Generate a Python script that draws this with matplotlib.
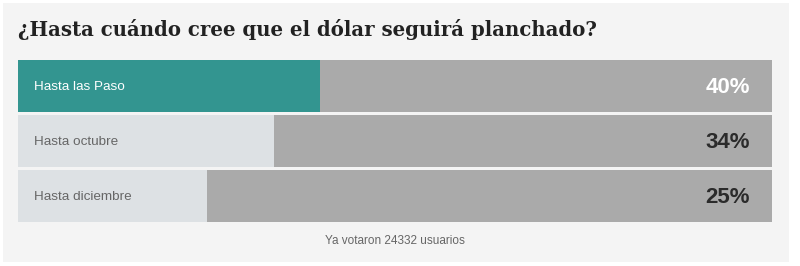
import matplotlib
matplotlib.use("Agg")
import matplotlib.pyplot as plt
from matplotlib.patches import Rectangle

title = "¿Hasta cuándo cree que el dólar seguirá planchado?"
options = ["Hasta las Paso", "Hasta octubre", "Hasta diciembre"]
percents = [40, 34, 25]
footer = "Ya votaron 24332 usuarios"

W, H = 800, 266
fig = plt.figure(figsize=(W / 100, H / 100), dpi=100)
fig.patch.set_facecolor("white")
fig.patches.append(Rectangle((3 / W, 4 / H), 786 / W, 259 / H, transform=fig.transFigure,
                             facecolor="#f4f4f4", edgecolor="none", zorder=-5))

# bar area: x 18..772, y 60..222 px (top-origin)
ax = fig.add_axes([18 / W, 1 - 222 / H, 754 / W, 162 / H])
ax.set_zorder(2)
ax.set_facecolor("none")
h = 52 / 55
ypos = list(range(len(options)))
fill_colors = ["#339590", "#dde1e4", "#dde1e4"]
label_colors = ["white", "#666666", "#666666"]
pct_colors = ["white", "#2b2b2b", "#2b2b2b"]

ax.barh(ypos, [100] * len(options), height=h, color="#aaaaaa", zorder=1)
ax.barh(ypos, percents, height=h, color=fill_colors, zorder=2)
for y, lab, p, lc, pc in zip(ypos, options, percents, label_colors, pct_colors):
    ax.text(16 / 754 * 100, y + 0.02, lab, va="center", ha="left", color=lc,
            fontsize=9.7, family="Liberation Sans", zorder=3)
    ax.text(100 - 22 / 754 * 100, y + 0.03, f"{p}%", va="center", ha="right", color=pc,
            fontsize=16, fontweight="bold", family="Liberation Sans", zorder=3)
ax.set_xlim(0, 100)
ax.set_ylim(len(options) - 1 + h / 2, -h / 2)
ax.axis("off")

fig.text(18 / W, 1 - 30 / H, title, ha="left", va="center", fontsize=14.2,
         fontweight="bold", family="DejaVu Serif", color="#222222")
fig.text(395 / W, 1 - 241 / H, footer, ha="center", va="center", fontsize=8.5,
         family="Liberation Sans", color="#666666")

fig.savefig("out.png", dpi=100, facecolor=fig.get_facecolor())
